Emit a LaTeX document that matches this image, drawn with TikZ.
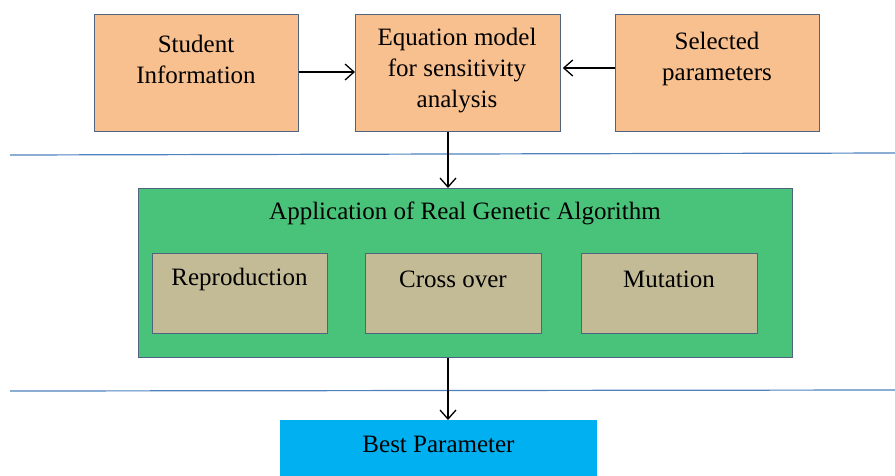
\documentclass[tikz,border=0pt]{standalone}
\usepackage{fontspec}
\setmainfont{Liberation Serif}
\usetikzlibrary{arrows.meta}
\definecolor{orangebox}{RGB}{248,191,143}
\definecolor{greenbox}{RGB}{74,195,122}
\definecolor{tanbox}{RGB}{195,187,150}
\definecolor{bluebox}{RGB}{0,176,240}
\definecolor{edgecol}{RGB}{80,100,130}
\definecolor{linecol}{RGB}{79,129,189}
\begin{document}
\begin{tikzpicture}[x=1pt,y=-1pt,
  box/.style={draw=edgecol,line width=0.8pt,inner sep=0pt,anchor=north west},
  txt/.style={font=\fontsize{25}{31}\selectfont,align=center,inner sep=0pt},
  arr/.style={-{Straight Barb[length=9pt,width=16pt]},line width=1.3pt,black},
  sep/.style={draw=linecol,line width=1.2pt}]
\useasboundingbox (0,0) rectangle (895,475);
% top boxes
\node[box,fill=orangebox,minimum width=204pt,minimum height=117pt] (si) at (94,14) {};
\node[box,fill=orangebox,minimum width=205pt,minimum height=117pt] (eq) at (355,14) {};
\node[box,fill=orangebox,minimum width=204pt,minimum height=117pt] (sp) at (615,14) {};
\node[txt] (sit) at (196,59) {Student\\Information};
\node[txt] (eqt) at (457,71) {Equation model\\for sensitivity\\analysis};
\node[txt] (spt) at (717,59) {Selected\\parameters};
% separator lines
\coordinate (l1a) at (10,155); \coordinate (l1b) at (895,153);
\coordinate (l2a) at (10,391); \coordinate (l2b) at (895,390);
\draw[sep] (l1a) -- (l1b);
\draw[sep] (l2a) -- (l2b);
% green box
\node[box,fill=greenbox,minimum width=654pt,minimum height=169pt] (ga) at (138,188) {};
\node[txt] (gat) at (465,213) {Application of Real Genetic Algorithm};
\node[box,fill=tanbox,minimum width=175pt,minimum height=80pt] (rep) at (152,253) {};
\node[box,fill=tanbox,minimum width=176pt,minimum height=80pt] (cro) at (365,253) {};
\node[box,fill=tanbox,minimum width=176pt,minimum height=80pt] (mut) at (581,253) {};
\node[txt] (rept) at (239.5,279) {Reproduction};
\node[txt] (crot) at (453,279) {Cross over};
\node[txt] (mutt) at (669,279) {Mutation};
% best parameter
\node[box,draw=none,fill=bluebox,minimum width=317pt,minimum height=60pt] (bp) at (280,420) {};
\node[txt] (bpt) at (438.5,444) {Best Parameter};
% arrow anchor rows
\coordinate (ya) at (0,72);
\coordinate (yb) at (0,68);
\coordinate (xc) at (448,0);
% arrows
\draw[arr] (si.east |- ya) -- (eq.west |- ya);
\draw[arr] (sp.west |- yb) -- ([xshift=2pt]eq.east |- yb);
\draw[arr] (eq.south -| xc) -- (ga.north -| xc);
\draw[arr] (ga.south -| xc) -- (bp.north -| xc);
\end{tikzpicture}
\end{document}
